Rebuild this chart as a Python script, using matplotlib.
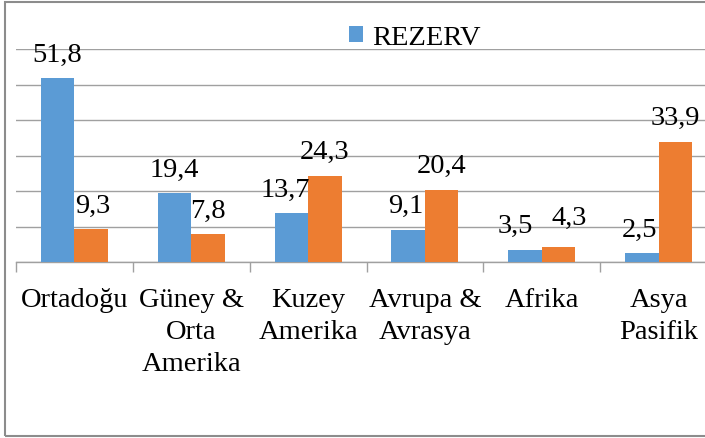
import matplotlib
matplotlib.use("Agg")
import matplotlib.pyplot as plt
import numpy as np
from matplotlib.patches import Rectangle

# ---- data ----
categories = ["Ortadoğu", "Güney &\nOrta\nAmerika", "Kuzey\nAmerika",
              "Avrupa &\nAvrasya", "Afrika", "Asya\nPasifik"]
rezerv = [51.8, 19.4, 13.7, 9.1, 3.5, 2.5]
second = [9.3, 7.8, 24.3, 20.4, 4.3, 33.9]
series_name = "REZERV"
y_ticks = [0, 10, 20, 30, 40, 50, 60]

# ---- style ----
BLUE = "#5B9BD5"
ORANGE = "#ED7D31"
GRID = "#a0a0a0"
FS = 20.5
plt.rcParams['font.family'] = ['Liberation Serif', 'DejaVu Serif']

W, H = 705, 439
fig = plt.figure(figsize=(W / 100, H / 100), dpi=100)
ax = fig.add_axes([16 / W, (H - 263) / H, 701 / W, 213 / H])

x = np.arange(len(categories))
bw = 0.287
b1 = ax.bar(x - bw / 2, rezerv, bw, color=BLUE, label=series_name, zorder=3)
b2 = ax.bar(x + bw / 2, second, bw, color=ORANGE, zorder=3)

ax.set_xlim(-0.5, len(categories) - 0.5)
ax.set_ylim(y_ticks[0], y_ticks[-1])
ax.set_yticks(y_ticks)
ax.tick_params(axis='y', length=0, labelleft=False)
ax.grid(axis='y', color=GRID, lw=1.0, zorder=0)
ax.set_axisbelow(True)

ax.set_xticks(x)
ax.set_xticklabels(categories, fontsize=FS, linespacing=1.36)
ax.tick_params(axis='x', which='major', length=0, pad=18)
ax.set_xticks(np.arange(-0.5, len(categories)), minor=True)
ax.tick_params(axis='x', which='minor', length=7, color=GRID, width=1.0)

for s in ['top', 'right', 'left']:
    ax.spines[s].set_visible(False)
ax.spines['bottom'].set_color(GRID)
ax.spines['bottom'].set_linewidth(1.0)

def fmt(v):
    return f"{v:.1f}".replace('.', ',')

# small manual nudges of labels (points)
blue_dx = [0, 0, -4, -2, -7, -2]
orange_dx = [1, 0, 0, 0, 8, 0]
orange_dy = [0, 0, 0, 0, 4, 0]
for i, r in enumerate(b1):
    ax.annotate(fmt(rezerv[i]), (r.get_x() + r.get_width() / 2, r.get_height()),
                xytext=(blue_dx[i], 12.5), textcoords='offset points',
                ha='center', va='baseline', fontsize=FS, zorder=5)
for i, r in enumerate(b2):
    ax.annotate(fmt(second[i]), (r.get_x() + r.get_width() / 2, r.get_height()),
                xytext=(orange_dx[i], 12.5 + orange_dy[i]), textcoords='offset points',
                ha='center', va='baseline', fontsize=FS, zorder=5)

leg = fig.legend(handles=[b1], labels=[series_name], loc='upper left',
                 bbox_to_anchor=(349 / W, 1 - 26 / H), frameon=False,
                 fontsize=FS, handlelength=0.5, handleheight=0.5,
                 handletextpad=0.3, borderpad=0, borderaxespad=0)

fig.patches.append(Rectangle((5 / W, 2 / H), 1.0, 434 / H, transform=fig.transFigure,
                             fill=False, edgecolor='#8c8c8c', lw=1.5))

fig.savefig("out.png", dpi=100)
